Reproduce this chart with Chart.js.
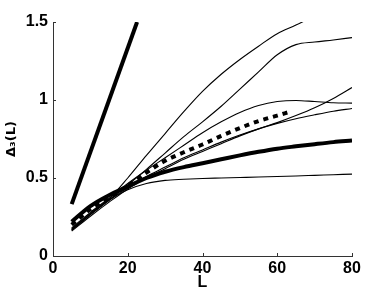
<!DOCTYPE html>
<html>
<head>
<meta charset="utf-8">
<script src="https://cdn.jsdelivr.net/npm/chart.js@4.4.1/dist/chart.umd.min.js"></script>
<style>
  html, body { margin: 0; padding: 0; background: #fff; }
  #wrap { width: 388px; height: 292px; }
</style>
</head>
<body>
<div id="wrap"><canvas id="delta3Chart"></canvas></div>
<script>
// window lengths L
const L = [5, 10, 15, 20, 25, 30, 35, 40, 45, 50, 55, 60, 65, 70, 75, 80];

// thin curves, one per spectrum
const curveA = [0.165, 0.265, 0.365, 0.50, 0.645, 0.785, 0.925, 1.055, 1.165, 1.26, 1.345, 1.425, 1.48, 1.54, 1.6, 1.65];
const curveB = [0.17, 0.27, 0.36, 0.455, 0.555, 0.66, 0.765, 0.86, 0.96, 1.07, 1.18, 1.29, 1.355, 1.372, 1.385, 1.40];
const curveC = [0.16, 0.255, 0.345, 0.43, 0.50, 0.56, 0.62, 0.67, 0.72, 0.77, 0.815, 0.855, 0.90, 0.95, 1.01, 1.08];
const curveD = [0.18, 0.28, 0.37, 0.465, 0.55, 0.63, 0.71, 0.79, 0.86, 0.92, 0.965, 0.99, 0.997, 0.99, 0.982, 0.98];
const curveE = [0.17, 0.265, 0.355, 0.44, 0.51, 0.57, 0.63, 0.68, 0.73, 0.775, 0.815, 0.85, 0.88, 0.905, 0.928, 0.946];
const curveF = [0.175, 0.275, 0.36, 0.425, 0.465, 0.485, 0.492, 0.497, 0.50, 0.503, 0.506, 0.51, 0.513, 0.517, 0.521, 0.525];

// thick solid reference curve
const thickCurve = [0.22, 0.32, 0.39, 0.445, 0.50, 0.54, 0.57, 0.595, 0.62, 0.645, 0.668, 0.688, 0.703, 0.717, 0.73, 0.74];

// thick dashed curve (stops near L = 63)
const dashL = [5, 10, 15, 20, 25, 30, 35, 40, 45, 50, 55, 60, 63];
const dashCurve = [0.20, 0.30, 0.375, 0.45, 0.535, 0.61, 0.665, 0.715, 0.77, 0.82, 0.865, 0.90, 0.922];

// straight line L/15
const poissonL = [5, 22.5];
const poissonD = [0.333, 1.5];

const xTicks = [0, 20, 40, 60, 80];
const yTicks = [0, 0.5, 1, 1.5];

const toPoints = (xs, ys) => xs.map((x, i) => ({ x: x, y: ys[i] }));

const thin = (ys) => ({
  data: toPoints(L, ys),
  borderColor: '#000',
  borderWidth: 1.1,
  pointRadius: 0,
  fill: false,
  tension: 0.4,
  cubicInterpolationMode: 'monotone',
});

const tickFont = { family: '"Liberation Sans Narrow", "Liberation Sans", Arial, sans-serif', size: 16, weight: 'bold' };

// small ticks pointing into the plot, MATLAB style
const innerTicks = {
  id: 'innerTicks',
  afterDraw(chart) {
    const { ctx, chartArea, scales } = chart;
    ctx.save();
    ctx.strokeStyle = '#333';
    ctx.lineWidth = 1;
    ctx.beginPath();
    xTicks.forEach((v) => {
      const px = Math.round(scales.x.getPixelForValue(v)) + 0.5;
      ctx.moveTo(px, chartArea.bottom);
      ctx.lineTo(px, chartArea.bottom - 3);
    });
    yTicks.forEach((v) => {
      const py = Math.round(scales.y.getPixelForValue(v)) + 0.5;
      ctx.moveTo(chartArea.left, py);
      ctx.lineTo(chartArea.left + 3, py);
    });
    ctx.stroke();
    ctx.restore();
  },
};

const ctx = document.getElementById('delta3Chart').getContext('2d');
const chart = new Chart(ctx, {
  type: 'line',
  data: {
    datasets: [
      thin(curveA),
      thin(curveB),
      thin(curveC),
      thin(curveD),
      thin(curveE),
      thin(curveF),
      {
        data: toPoints(L, thickCurve),
        borderColor: '#000',
        borderWidth: 4,
        pointRadius: 0,
        fill: false,
        tension: 0.4,
        cubicInterpolationMode: 'monotone',
      },
      {
        data: toPoints(dashL, dashCurve),
        borderColor: '#000',
        borderWidth: 4,
        borderDash: [5, 5],
        borderCapStyle: 'butt',
        pointRadius: 0,
        fill: false,
        tension: 0.4,
        cubicInterpolationMode: 'monotone',
      },
      {
        data: toPoints(poissonL, poissonD),
        borderColor: '#000',
        borderWidth: 4,
        pointRadius: 0,
        fill: false,
      },
    ],
  },
  options: {
    responsive: true,
    maintainAspectRatio: false,
    animation: false,
    layout: { padding: { top: 22, right: 36, left: 0, bottom: 0 } },
    plugins: {
      legend: { display: false },
      tooltip: { enabled: false },
    },
    scales: {
      x: {
        type: 'linear',
        min: 0,
        max: 80,
        afterBuildTicks: (scale) => { scale.ticks = xTicks.map((v) => ({ value: v })); },
        afterFit: (scale) => { scale.height = 36; },
        ticks: { color: '#000', font: tickFont, padding: 3, maxRotation: 0, callback: (v) => String(v) },
        grid: { drawOnChartArea: false, drawTicks: false },
        border: { color: '#333', width: 1 },
        title: { display: true, text: 'L', color: '#000', font: tickFont, padding: { top: 0, bottom: 0 } },
      },
      y: {
        type: 'linear',
        min: 0,
        max: 1.5,
        afterBuildTicks: (scale) => { scale.ticks = yTicks.map((v) => ({ value: v })); },
        afterFit: (scale) => { scale.width = 53; },
        ticks: { color: '#000', font: tickFont, padding: 5, callback: (v) => String(v) },
        grid: { drawOnChartArea: false, drawTicks: false },
        border: { color: '#333', width: 1 },
        title: {
          display: true,
          text: 'Δ₃(L)',
          color: '#000',
          font: { family: '"DejaVu Sans", sans-serif', size: 13, weight: 'bold' },
          padding: { top: 4, bottom: 0 },
        },
      },
    },
  },
  plugins: [innerTicks],
});
</script>
</body>
</html>
